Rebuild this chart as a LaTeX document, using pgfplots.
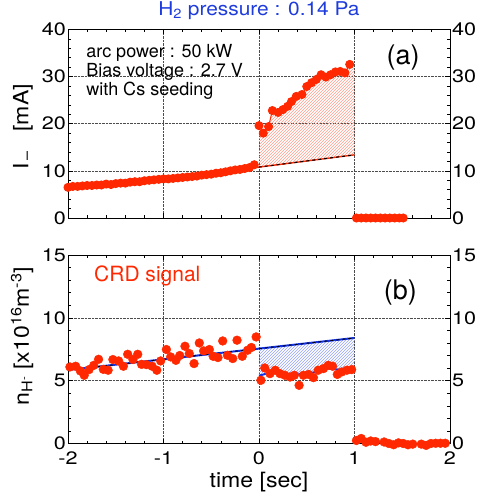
\documentclass[border=0pt]{standalone}
\usepackage{pgfplots}
\pgfplotsset{compat=1.18}
\usepgfplotslibrary{fillbetween}
\usetikzlibrary{patterns}
\usepackage{fontspec}
\setmainfont{TeX Gyre Heros}
\newfontfamily\tickfont{TeX Gyre Heros}[FakeStretch=1.2]
\newfontfamily\labfont{TeX Gyre Heros}[FakeStretch=1.1]

\definecolor{dotred}{RGB}{255,40,0}
\definecolor{ttlblue}{RGB}{30,60,220}
\definecolor{fitblue}{RGB}{20,50,230}

\pgfplotsset{
  panel/.style={
    scale only axis, width=382pt, height=188.5pt,
    xmin=-2, xmax=2, xtick={-2,-1,0,1,2}, minor x tick num=4,
    tick align=inside, major tick length=5pt, minor tick length=3pt,
    grid=major, major grid style={densely dotted, black!70, line width=0.6pt},
    axis line style={line width=0.8pt},
    every tick/.style={black, line width=0.6pt},
    ticklabel style={font=\fontsize{18}{18}\tickfont},
    yticklabel style={inner xsep=2pt},
    xticklabel style={inner ysep=2pt, yshift=-6pt},
    /pgf/number format/assume math mode=true,
    label style={font=\fontsize{21}{23}\labfont},
    yticklabel pos=left,
    clip=false,
  },
  rlabels/.style={
    scale only axis, width=382pt, height=188.5pt,
    xmin=-2, xmax=2, hide x axis,
    axis line style={draw=none}, tick style={draw=none},
    yticklabel pos=right,
    ticklabel style={font=\fontsize{18}{18}\tickfont},
    yticklabel style={inner xsep=2pt},
    /pgf/number format/assume math mode=true,
  },
  dots/.style={only marks, mark=*, mark size=4.4pt, mark options={draw=dotred, fill=dotred}},
}

\begin{document}
\begin{tikzpicture}

% ---------- panel (a)
\begin{axis}[panel, at={(0pt,0pt)}, anchor=north west,
  ymin=0, ymax=40, ytick={0,10,20,30,40}, minor y tick num=4,
  xticklabels={},
  ylabel={I\textsubscript{\,–}\ \ \ [mA]},
  ylabel style={at={(axis description cs:-0.118,0.485)}, anchor=center},
  title={H\textsubscript{2} pressure : 0.14 Pa},
  title style={at={(axis description cs:0.5,1)}, anchor=base, yshift=8pt,
    font=\fontsize{19}{19}\labfont, text=ttlblue},
]
% invisible boundaries for the hatch
\addplot[draw=none, name path=fitA, forget plot] coordinates {(-1,8.2) (1,13.4)};
\addplot[draw=none, name path=dataA, forget plot] coordinates {
  (0.00,19.6) (0.045,18.0) (0.10,19.4) (0.14,22.8) (0.20,22.4) (0.25,23.0)
  (0.30,23.7) (0.34,24.7) (0.39,25.8) (0.45,26.2) (0.50,27.9) (0.55,28.7)
  (0.60,29.4) (0.65,30.4) (0.70,29.9) (0.75,30.4) (0.80,31.0) (0.85,31.1)
  (0.90,30.8) (0.95,32.6) (1.00,31.6)};
\addplot[pattern=north east lines, pattern color=dotred!45, draw=none]
  fill between[of=dataA and fitA, soft clip={domain=0:1}];

% fit line
\addplot[dotred, line width=1.4pt] coordinates {(-1,8.2) (1,13.4)};
\addplot[black, line width=1.1pt, dash pattern=on 3pt off 3pt] coordinates {(-1,8.2) (1,13.4)};

% data
\addplot[dotred, line width=1pt, mark=*, mark size=4pt, mark options={fill=dotred}] coordinates {
  (-2.00,6.5) (-1.95,6.7) (-1.90,6.7) (-1.85,6.8) (-1.80,6.9) (-1.75,6.9)
  (-1.70,7.0) (-1.65,7.0) (-1.60,7.2) (-1.55,7.1) (-1.50,7.3) (-1.45,7.4)
  (-1.40,7.4) (-1.35,7.6) (-1.30,7.7) (-1.25,7.7) (-1.20,7.9) (-1.15,8.0)
  (-1.10,8.1) (-1.05,8.2) (-1.00,8.3) (-0.95,8.3) (-0.90,8.4) (-0.85,8.5)
  (-0.80,8.6) (-0.75,8.7) (-0.70,8.8) (-0.65,8.9) (-0.60,9.1) (-0.55,9.2)
  (-0.50,9.3) (-0.45,9.5) (-0.40,9.6) (-0.35,9.8) (-0.30,10.0) (-0.25,10.2)
  (-0.20,10.3) (-0.15,10.5) (-0.10,10.7) (-0.05,11.3)};
\addplot[dotred, line width=1pt, mark=*, mark size=4pt, mark options={fill=dotred}] coordinates {
  (0.00,19.6) (0.045,18.0) (0.10,19.4) (0.14,22.8) (0.20,22.4) (0.25,23.0)
  (0.30,23.7) (0.34,24.7) (0.39,25.8) (0.45,26.2) (0.50,27.9) (0.55,28.7)
  (0.60,29.4) (0.65,30.4) (0.70,29.9) (0.75,30.4) (0.80,31.0) (0.85,31.1)
  (0.90,30.8) (0.95,32.6)};
\addplot[dotred, line width=1pt, mark=*, mark size=4pt, mark options={fill=dotred}] coordinates {
  (1.02,0) (1.07,0) (1.12,0) (1.17,0) (1.22,0) (1.27,0) (1.32,0) (1.37,0)
  (1.42,0) (1.47,0) (1.51,0)};

\node[anchor=north west, align=left, inner sep=0pt, font=\fontsize{18}{19.2}\selectfont]
  at (axis cs:-1.81,36.9) {arc power : 50 kW\\Bias voltage : 2.7 V\\with Cs seeding};
\node[font=\fontsize{27}{27}\selectfont] at (axis cs:1.51,34.0) {(a)};
\end{axis}
\begin{axis}[rlabels, at={(0pt,0pt)}, anchor=north west,
  ymin=0, ymax=40, ytick={0,10,20,30,40}]
\addplot[draw=none] coordinates {(-2,0) (2,40)};
\end{axis}

% ---------- panel (b)
\begin{axis}[panel, at={(0pt,-225.5pt)}, anchor=north west,
  ymin=0, ymax=15, ytick={0,5,10,15}, minor y tick num=4,
  xlabel={time [sec]},
  xlabel style={at={(axis description cs:0.5,0)}, anchor=base, yshift=-44pt},
  ylabel={n\textsubscript{H\textsuperscript{-}}\ [x10\textsuperscript{16}m\textsuperscript{-3}]},
  ylabel style={at={(axis description cs:-0.12,0.57)}, anchor=center},
]
\addplot[draw=none, name path=fitB, forget plot] coordinates {(0,7.55) (1,8.4)};
\addplot[draw=none, name path=lowB, forget plot] coordinates {
  (0,5.4) (0.1,5.6) (0.2,5.7) (0.3,5.55) (0.4,5.5) (0.5,5.55) (0.6,5.7)
  (0.7,6.0) (0.8,5.9) (0.9,5.85) (1.0,5.95)};
\addplot[pattern=north east lines, pattern color=fitblue!45, draw=none]
  fill between[of=fitB and lowB];

% fit and smoothed lines
\addplot[fitblue, line width=2pt] coordinates {(-2,5.85) (1,8.4)};
\addplot[black, line width=0.9pt, dash pattern=on 3pt off 3pt] coordinates {(-2,5.85) (1,8.4)};
\addplot[fitblue, line width=2pt] coordinates {
  (0,5.4) (0.1,5.6) (0.2,5.7) (0.3,5.55) (0.4,5.5) (0.5,5.55) (0.6,5.7)
  (0.7,6.0) (0.8,5.9) (0.9,5.85) (1.0,5.95)};
\addplot[fitblue, line width=2pt] coordinates {
  (1.0,0.2) (1.2,0.15) (1.4,0.0) (1.6,-0.05) (1.8,0.0) (2.0,0.05)};

% CRD data
\addplot[dots] coordinates {
  (-1.98,6.09) (-1.92,6.15) (-1.87,5.77) (-1.83,5.43) (-1.78,5.88) (-1.73,6.22)
  (-1.68,6.70) (-1.63,5.90) (-1.58,5.83) (-1.53,6.68) (-1.47,6.57) (-1.42,6.15)
  (-1.375,7.10) (-1.32,6.68) (-1.27,7.10) (-1.23,6.30) (-1.18,6.28) (-1.12,6.15)
  (-1.07,5.83) (-1.03,6.57) (-0.97,7.48) (-0.925,6.89) (-0.87,6.62) (-0.83,7.00)
  (-0.775,7.74) (-0.73,7.16) (-0.68,6.36) (-0.625,8.00) (-0.58,7.37) (-0.52,7.48)
  (-0.48,6.94) (-0.43,6.84) (-0.38,8.16) (-0.33,7.02) (-0.275,6.76) (-0.23,8.22)
  (-0.175,6.94) (-0.12,7.42) (-0.08,7.64) (-0.03,8.48)
  (0.02,5.03) (0.06,6.01) (0.115,5.56) (0.17,5.83) (0.22,5.56) (0.27,5.43)
  (0.325,5.29) (0.37,5.43) (0.42,4.63) (0.465,5.43) (0.52,5.50) (0.57,5.24)
  (0.62,5.83) (0.675,5.96) (0.725,6.22) (0.77,6.15) (0.82,5.50) (0.865,5.69)
  (0.92,5.83) (0.97,5.88)
  (1.02,0.24) (1.07,0.40) (1.12,0.10) (1.17,0.20) (1.22,0.15) (1.31,0.12)
  (1.36,0.00) (1.41,-0.10) (1.46,0.05) (1.51,0.00) (1.56,-0.10) (1.61,-0.05)
  (1.70,-0.05) (1.75,-0.15) (1.80,0.00) (1.85,0.02) (1.90,0.02) (1.95,0.02)};

\node[text=dotred, font=\fontsize{21}{21}\selectfont] at (axis cs:-1.17,13.3) {CRD signal};
\node[font=\fontsize{27}{27}\selectfont] at (axis cs:1.48,12.0) {(b)};
\end{axis}
\begin{axis}[rlabels, at={(0pt,-225.5pt)}, anchor=north west,
  ymin=0, ymax=15, ytick={0,5,10,15}]
\addplot[draw=none] coordinates {(-2,0) (2,15)};
\end{axis}

\pgfresetboundingbox
\useasboundingbox (-68pt,29.5pt) rectangle (416pt,-467.5pt);
\end{tikzpicture}
\end{document}
